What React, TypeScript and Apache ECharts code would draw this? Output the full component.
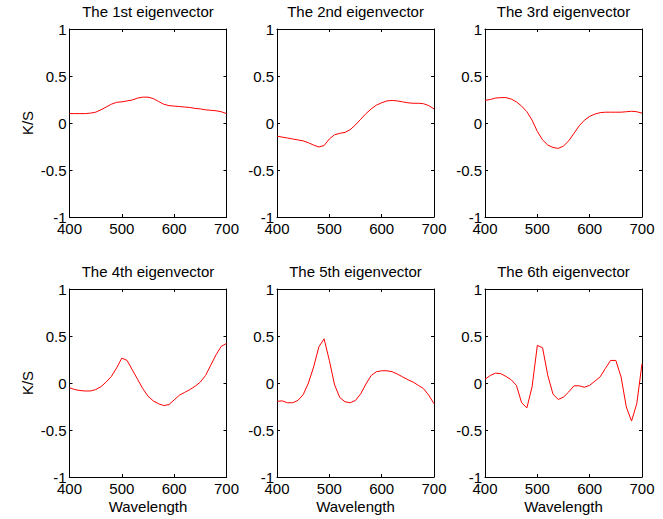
import React, { useEffect, useRef } from "react";
import * as echarts from "echarts";

const wavelengths = [400, 410, 420, 430, 440, 450, 460, 470, 480, 490, 500, 510, 520, 530, 540, 550, 560, 570, 580, 590, 600, 610, 620, 630, 640, 650, 660, 670, 680, 690, 700];

const ev1 = [0.10, 0.10, 0.10, 0.10, 0.105, 0.115, 0.14, 0.17, 0.20, 0.22, 0.225, 0.235, 0.245, 0.265, 0.275, 0.275, 0.26, 0.23, 0.20, 0.185, 0.18, 0.175, 0.17, 0.165, 0.155, 0.15, 0.14, 0.135, 0.13, 0.12, 0.10];
const ev2 = [-0.14, -0.15, -0.16, -0.17, -0.18, -0.19, -0.21, -0.235, -0.255, -0.24, -0.17, -0.125, -0.11, -0.10, -0.07, -0.02, 0.04, 0.10, 0.15, 0.19, 0.215, 0.235, 0.24, 0.235, 0.225, 0.215, 0.21, 0.21, 0.205, 0.185, 0.15];
const ev3 = [0.24, 0.25, 0.265, 0.27, 0.27, 0.255, 0.225, 0.18, 0.12, 0.03, -0.09, -0.18, -0.235, -0.26, -0.27, -0.245, -0.19, -0.11, -0.03, 0.03, 0.07, 0.095, 0.11, 0.115, 0.115, 0.115, 0.115, 0.12, 0.125, 0.12, 0.105];
const ev4 = [-0.05, -0.07, -0.08, -0.085, -0.085, -0.07, -0.04, 0.01, 0.07, 0.16, 0.265, 0.24, 0.14, 0.04, -0.06, -0.14, -0.19, -0.22, -0.24, -0.23, -0.18, -0.13, -0.10, -0.07, -0.035, 0.01, 0.08, 0.19, 0.30, 0.39, 0.42];
const ev5 = [-0.195, -0.19, -0.21, -0.21, -0.185, -0.125, 0.0, 0.17, 0.385, 0.47, 0.24, -0.02, -0.155, -0.2, -0.21, -0.185, -0.115, -0.01, 0.08, 0.12, 0.13, 0.13, 0.12, 0.095, 0.065, 0.035, 0.01, -0.025, -0.06, -0.13, -0.22];
const ev6 = [0.04, 0.08, 0.105, 0.1, 0.07, 0.035, -0.025, -0.21, -0.265, -0.04, 0.40, 0.375, 0.08, -0.12, -0.175, -0.15, -0.095, -0.03, -0.03, -0.045, -0.025, 0.02, 0.065, 0.155, 0.24, 0.24, 0.065, -0.255, -0.405, -0.22, 0.205];

const panelTitles = ["The 1st eigenvector", "The 2nd eigenvector", "The 3rd eigenvector", "The 4th eigenvector", "The 5th eigenvector", "The 6th eigenvector"];
const panelData = [ev1, ev2, ev3, ev4, ev5, ev6];
const xTicks = { min: 400, max: 700, interval: 100 };
const yTicks = { min: -1, max: 1, interval: 0.5 };
const xLabel = "Wavelength";
const yLabel = "K/S";

const FONT = "'Liberation Sans', Arial, Helvetica, sans-serif";

export default function App() {
  const ref = useRef<HTMLDivElement>(null);
  useEffect(() => {
    if (!ref.current) return;
    const chart = echarts.init(ref.current, undefined, { renderer: "svg" });
    const lefts = [69.5, 277, 485];
    const tops = [29, 289];
    const W = 157;
    const H = 188;
    const grids: any[] = [];
    const xAxes: any[] = [];
    const yAxes: any[] = [];
    const series: any[] = [];
    const titles: any[] = [];
    const axisLine = { show: true, onZero: false, lineStyle: { color: "#000", width: 1 } };
    const axisTick = { show: true, inside: true, length: 3, lineStyle: { color: "#000", width: 1 } };
    for (let i = 0; i < 6; i++) {
      const r = Math.floor(i / 3);
      const c = i % 3;
      grids.push({ left: lefts[c], top: tops[r], width: W, height: H, containLabel: false });
      titles.push({
        text: panelTitles[i],
        left: lefts[c] + W / 2,
        top: tops[r] - 25,
        textAlign: "center",
        padding: 0,
        textStyle: { fontSize: 15, fontWeight: "normal", color: "#000", fontFamily: FONT },
      });
      const bottomRow = r === 1;
      const leftCol = c === 0;
      xAxes.push({
        type: "value", gridIndex: i, position: "bottom", ...xTicks,
        axisLine, axisTick, splitLine: { show: false },
        axisLabel: { show: true, margin: 4, fontSize: 15, color: "#000", fontFamily: FONT },
        name: bottomRow ? xLabel : "",
        nameLocation: "middle", nameGap: 22,
        nameTextStyle: { fontSize: 15, color: "#000", fontFamily: FONT },
      });
      xAxes.push({
        type: "value", gridIndex: i, position: "top", ...xTicks,
        axisLine, axisTick, splitLine: { show: false }, axisLabel: { show: false },
      });
      yAxes.push({
        type: "value", gridIndex: i, position: "left", ...yTicks,
        axisLine, axisTick, splitLine: { show: false },
        axisLabel: { show: true, margin: 3, fontSize: 15, lineHeight: 8, color: "#000", fontFamily: FONT, showMinLabel: true, showMaxLabel: true },
        name: leftCol ? yLabel : "",
        nameLocation: "middle", nameGap: 35,
        nameTextStyle: { fontSize: 15, color: "#000", fontFamily: FONT },
      });
      yAxes.push({
        type: "value", gridIndex: i, position: "right", ...yTicks,
        axisLine, axisTick, splitLine: { show: false }, axisLabel: { show: false },
      });
      series.push({
        type: "line",
        xAxisIndex: i * 2,
        yAxisIndex: i * 2,
        data: wavelengths.map((w, k) => [w, panelData[i][k]]),
        showSymbol: false,
        symbol: "none",
        lineStyle: { color: "#ff0000", width: 1 },
        smooth: false,
      });
    }
    chart.setOption({
      animation: false,
      backgroundColor: "#fff",
      textStyle: { fontFamily: FONT },
      title: titles,
      grid: grids,
      xAxis: xAxes,
      yAxis: yAxes,
      series,
    });
    return () => chart.dispose();
  }, []);
  return <div ref={ref} style={{ position: "absolute", left: 0, top: 0, width: 663, height: 519 }} />;
}
